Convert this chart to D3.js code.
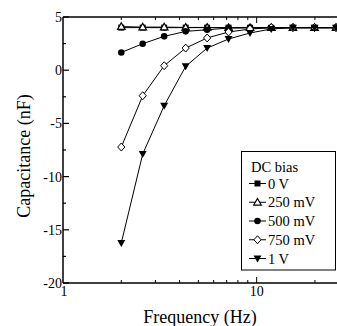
<!DOCTYPE html>
<html>
<head>
<meta charset="utf-8">
<script src="https://cdn.jsdelivr.net/npm/d3@7"></script>
<style>
  body { margin: 0; background: #fff; }
</style>
</head>
<body>
<div id="chart"></div>
<script>
// frequencies (Hz) of the measured points
const freqs = [2, 2.58, 3.33, 4.3, 5.55, 7.16, 9.24, 11.9, 15.4, 19.9, 25.7];
// capacitance (nF) for each DC bias
const bias0V = [4.0, 4.0, 4.0, 4.0, 4.0, 4.0, 3.98, 3.98, 3.98, 3.98, 3.98];
const bias250mV = [4.1, 4.05, 4.05, 4.02, 4.02, 4.0, 4.0, 4.0, 4.0, 4.0, 4.0];
const bias500mV = [1.67, 2.49, 3.18, 3.65, 3.8, 3.96, 4.0, 4.0, 4.0, 4.0, 4.0];
const bias750mV = [-7.22, -2.4, 0.42, 2.08, 3.03, 3.59, 3.87, 4.0, 4.0, 4.0, 4.0];
const bias1V = [-16.24, -7.88, -3.34, 0.36, 2.08, 2.93, 3.5, 3.87, 4.0, 4.0, 4.0];

const seriesNames = ["0 V", "250 mV", "500 mV", "750 mV", "1 V"];
const seriesValues = [bias0V, bias250mV, bias500mV, bias750mV, bias1V];
const seriesSymbols = ["square", "triangle", "circle", "diamond", "down"];

const yMajorTicks = [5, 0, -5, -10, -15, -20];
const yMinorTicks = [2.5, -2.5, -7.5, -12.5, -17.5];
const xTickLabels = [1, 10];
const xMinorTicks = [2, 3, 4, 5, 6, 7, 8, 9, 20];

const width = 337, height = 326;
const margin = { top: 17, right: 0, bottom: 43, left: 63 };
const serif = '"Liberation Serif"';

const svg = d3.select("#chart").append("svg")
  .attr("width", width)
  .attr("height", height);

const x = d3.scaleLog()
  .domain([1, 26])
  .range([margin.left, width - margin.right]);
const y = d3.scaleLinear()
  .domain([-20, 5])
  .range([height - margin.bottom, margin.top]);

// text helper, inline font so nothing falls back to sans
function addText(g, size) {
  return g.append("text")
    .style("font-family", serif)
    .style("font-size", size + "px")
    .style("fill", "#000");
}

// symbols
function drawSymbol(g, type, cx, cy) {
  if (type === "square") {
    g.append("rect").attr("x", cx - 3).attr("y", cy - 3).attr("width", 6).attr("height", 6)
      .attr("fill", "#000");
  } else if (type === "triangle") {
    g.append("path").attr("d", `M${cx},${cy - 3.8}L${cx + 3.8},${cy + 2.8}L${cx - 3.8},${cy + 2.8}Z`)
      .attr("fill", "#fff").attr("stroke", "#000").attr("stroke-width", 1.2);
  } else if (type === "circle") {
    g.append("circle").attr("cx", cx).attr("cy", cy).attr("r", 3.3).attr("fill", "#000");
  } else if (type === "diamond") {
    g.append("path").attr("d", `M${cx},${cy - 4}L${cx + 3.6},${cy}L${cx},${cy + 4}L${cx - 3.6},${cy}Z`)
      .attr("fill", "#fff").attr("stroke", "#000").attr("stroke-width", 1);
  } else {
    g.append("path").attr("d", `M${cx - 4},${cy - 3}L${cx + 4},${cy - 3}L${cx},${cy + 4}Z`)
      .attr("fill", "#000");
  }
}

// lines + markers
const line = d3.line()
  .x(d => x(d[0]))
  .y(d => y(d[1]));

const plot = svg.append("g");
seriesValues.forEach((vals, i) => {
  const pts = freqs.map((f, k) => [f, vals[k]]);
  plot.append("path")
    .attr("d", line(pts))
    .attr("fill", "none")
    .attr("stroke", "#000")
    .attr("stroke-width", 1);
  pts.forEach(p => drawSymbol(plot, seriesSymbols[i], x(p[0]), y(p[1])));
});

// axes
const axisColor = "#000";
const y0 = height - margin.bottom;
const x0 = margin.left;

// left axis
const leftAxis = svg.append("g").attr("transform", `translate(${x0},0)`);
leftAxis.append("line").attr("y1", margin.top).attr("y2", y0).attr("stroke", axisColor).attr("stroke-width", 1.5);
leftAxis.selectAll(".maj").data(yMajorTicks).enter().append("line")
  .attr("x1", 0).attr("x2", 6).attr("y1", d => y(d)).attr("y2", d => y(d))
  .attr("stroke", axisColor).attr("stroke-width", 1.2);
leftAxis.selectAll(".min").data(yMinorTicks).enter().append("line")
  .attr("x1", 0).attr("x2", 3).attr("y1", d => y(d)).attr("y2", d => y(d))
  .attr("stroke", axisColor).attr("stroke-width", 1.2);
yMajorTicks.forEach(d => {
  addText(leftAxis, 14)
    .attr("x", -1).attr("y", y(d))
    .attr("dy", "0.35em")
    .attr("text-anchor", "end")
    .text(d);
});

// bottom axis
const bottomAxis = svg.append("g");
bottomAxis.append("line").attr("x1", x0).attr("x2", width).attr("y1", y0).attr("y2", y0)
  .attr("stroke", axisColor).attr("stroke-width", 1.5);
bottomAxis.selectAll(".min").data(xMinorTicks).enter().append("line")
  .attr("x1", d => x(d)).attr("x2", d => x(d)).attr("y1", y0).attr("y2", y0 - 3)
  .attr("stroke", axisColor).attr("stroke-width", 1);
bottomAxis.append("line").attr("x1", x(10)).attr("x2", x(10)).attr("y1", y0).attr("y2", y0 - 6)
  .attr("stroke", axisColor).attr("stroke-width", 1);
xTickLabels.forEach(d => {
  addText(bottomAxis, 14)
    .attr("x", x(d) + (d === 1 ? 1 : 0)).attr("y", y0 + 13)
    .attr("text-anchor", "middle")
    .text(d);
});

// top axis
const topAxis = svg.append("g");
topAxis.append("line").attr("x1", x0).attr("x2", width).attr("y1", margin.top).attr("y2", margin.top)
  .attr("stroke", axisColor).attr("stroke-width", 1.5);
topAxis.selectAll(".min").data(xMinorTicks).enter().append("line")
  .attr("x1", d => x(d)).attr("x2", d => x(d)).attr("y1", margin.top).attr("y2", margin.top + 3)
  .attr("stroke", axisColor).attr("stroke-width", 1);
topAxis.append("line").attr("x1", x(10)).attr("x2", x(10)).attr("y1", margin.top).attr("y2", margin.top + 6)
  .attr("stroke", axisColor).attr("stroke-width", 1);

// axis titles
addText(svg, 18)
  .attr("x", 200).attr("y", 323)
  .attr("text-anchor", "middle")
  .text("Frequency (Hz)");
addText(svg, 18)
  .attr("transform", "translate(30,156) rotate(-90)")
  .attr("text-anchor", "middle")
  .text("Capacitance (nF)");

// legend
const legend = svg.append("g");
legend.append("rect")
  .attr("x", 241.5).attr("y", 151.5).attr("width", 94).attr("height", 118.5)
  .attr("fill", "#fff").attr("stroke", "#000").attr("stroke-width", 1);
addText(legend, 14.5)
  .attr("x", 251).attr("y", 166.5).attr("dy", "0.35em")
  .text("DC bias");
seriesNames.forEach((name, i) => {
  const ly = 183.5 + i * 18.75;
  legend.append("line").attr("x1", 249).attr("x2", 266).attr("y1", ly).attr("y2", ly)
    .attr("stroke", "#000").attr("stroke-width", 1);
  drawSymbol(legend, seriesSymbols[i], 257.5, ly);
  addText(legend, 14.5)
    .attr("x", 268).attr("y", ly).attr("dy", "0.35em")
    .text(name);
});
</script>
</body>
</html>
